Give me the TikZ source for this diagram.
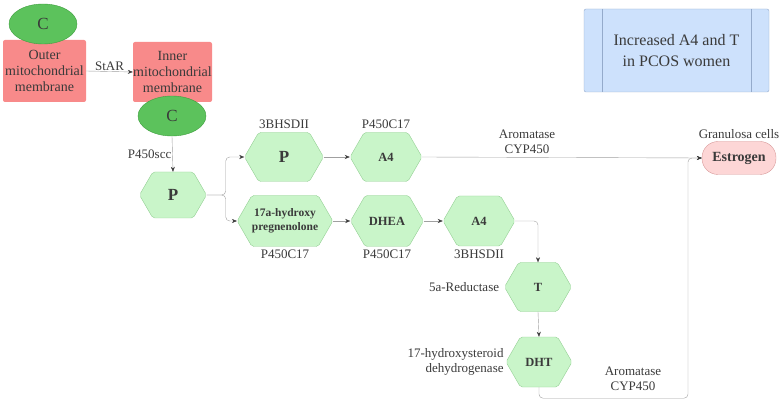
\documentclass[tikz,border=0pt]{standalone}
\usepackage{fontspec}
\setmainfont{Liberation Serif}
\usetikzlibrary{shapes.symbols,shapes.geometric,positioning,arrows.meta}

\definecolor{membrane}{HTML}{F88A8A}
\definecolor{chol}{HTML}{5CC25C}
\definecolor{cholline}{HTML}{3E9E3E}
\definecolor{hexfill}{HTML}{C9F5C9}
\definecolor{hexline}{HTML}{93CF93}
\definecolor{estfill}{HTML}{FDD6D6}
\definecolor{estline}{HTML}{D89A9A}
\definecolor{notefill}{HTML}{CDE1FC}
\definecolor{noteline}{HTML}{94AACB}
\definecolor{flow}{HTML}{A0A0A0}
\definecolor{ink}{HTML}{3A3A3A}

\tikzset{
	membranebox/.style={rectangle, rounded corners=2pt, fill=membrane, text=ink,
		align=center, inner sep=0pt, font=\fontsize{14}{16}\selectfont},
	chole/.style={ellipse, fill=chol, draw=cholline, text=ink, inner sep=0pt,
		minimum width=68pt, minimum height=40pt, font=\fontsize{17}{19}\selectfont},
	hexa/.style={signal, signal to=west and east, signal pointer angle=120,
		rounded corners=2pt, fill=hexfill, draw=hexline, text=ink, inner sep=0pt,
		minimum height=49pt, align=center, font=\bfseries\fontsize{12.5}{14}\selectfont},
	lbl/.style={text=ink, inner sep=1pt, align=center, font=\fontsize{13}{15}\selectfont},
	flowline/.style={draw=flow, rounded corners=4pt,
		-{Stealth[length=5pt,width=4pt,color=ink]}}
}

\begin{document}
\begin{tikzpicture}[x=1pt, y=-1pt]
	\useasboundingbox (0,0) rectangle (784,403);

	\node [membranebox, minimum width=83pt, minimum height=62pt]
		(outer) at (44.5, 71) {Outer\\mitochondrial\\membrane};
	\node [membranebox, minimum width=79pt, minimum height=60pt]
		(inner) at (172.5, 72) {Inner\\mitochondrial\\membrane};

	\node [chole] (chol1) at (43, 24) {C};
	\node [chole] (chol2) at (172, 116) {C};

	\node [hexa, minimum width=67pt, minimum height=46pt, font=\bfseries\fontsize{17}{19}\selectfont]
		(preg) at (173, 195) {P};
	\node [hexa, minimum width=79pt, font=\bfseries\fontsize{17}{19}\selectfont]
		(prog) at (284, 157) {P};
	\node [hexa, minimum width=72pt]
		(andra) at (386, 157) {A4};
	\node [hexa, minimum width=80pt, minimum height=51pt, font=\bfseries\fontsize{11.5}{14}\selectfont]
		(hpreg) at (285, 221) {17a-hydroxy\\pregnenolone};
	\node [hexa, minimum width=73pt, minimum height=51pt]
		(dhea) at (387, 221) {DHEA};
	\node [hexa, minimum width=72pt, minimum height=50pt]
		(andrb) at (479, 221) {A4};
	\node [hexa, minimum width=67pt]
		(testo) at (538, 287) {T};
	\node [hexa, minimum width=66pt, minimum height=50pt]
		(dht) at (539, 362) {DHT};

	\node [rectangle, rounded corners=16pt, fill=estfill, draw=estline, text=ink,
		minimum width=74pt, minimum height=33pt, inner sep=0pt,
		font=\bfseries\fontsize{14}{16}\selectfont]
		(estro) at (739, 158) {Estrogen};

	\node [rectangle, rounded corners=2pt, fill=notefill, draw=noteline, text=ink,
		minimum width=185pt, minimum height=83pt, align=center,
		font=\fontsize{16}{21}\selectfont]
		(note) at (676.5, 50.5) {Increased A4 and T\\in PCOS women};
	\draw [noteline]
		([xshift=18pt]note.north west) -- ([xshift=18pt]note.south west);
	\draw [noteline]
		([xshift=-18pt]note.north east) -- ([xshift=-18pt]note.south east);

	\node [lbl, above=2pt of prog] (lprog) {3BHSDII};
	\node [lbl, above=2pt of andra] (landra) {P450C17};
	\node [lbl, above=1pt of estro] (lestro) {Granulosa cells};
	\node [lbl, below=2pt of hpreg] (lhpreg) {P450C17};
	\node [lbl, below=2pt of dhea] (ldhea) {P450C17};
	\node [lbl, below=2pt of andrb] (landrb) {3BHSDII};
	\node [lbl, left=4pt of testo] (ltesto) {5a-Reductase};
	\node [lbl, left=1pt of dht, align=right] (ldht) {17-hydroxysteroid\\dehydrogenase};
	\node [lbl] (larom) at (633, 379) {Aromatase\\CYP450};

	\coordinate (merge) at (688, 158);

	\draw [flowline]
		(outer.east) -- node [lbl, above] (lstar) {StAR} (inner.west);
	\draw [flowline]
		(chol2.south) -- node [lbl, left] (lscc) {P450scc} (preg.north);
	\draw [flowline]
		(preg.east) -- ++(19, 0) |- (prog.west);
	\draw [flowline]
		(preg.east) -- ++(19, 0) |- (hpreg.west);
	\draw [flowline]
		(prog.east) -- (andra.west);
	\draw [flowline]
		(andra.east) -- node [lbl, above=3pt, pos=0.375] (lcyp) {Aromatase\\CYP450} (estro.west);
	\draw [flowline]
		(hpreg.east) -- (dhea.west);
	\draw [flowline]
		(dhea.east) -- (andrb.west);
	\draw [flowline]
		(andrb.east) -| (testo.north);
	\draw [flowline]
		(testo.south) -- (dht.north);
	\draw [flowline]
		(dht.south) -- ++(0, 11) -| (merge) -- (estro.west);
\end{tikzpicture}
\end{document}
